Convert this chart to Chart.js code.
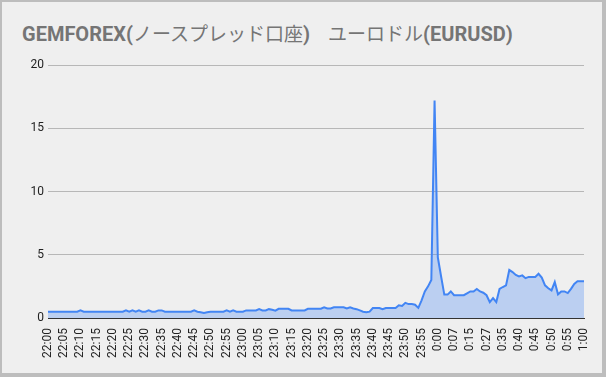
<!DOCTYPE html>
<html lang="ja">
<head>
  <meta charset="UTF-8" />
  <title>GEMFOREX ユーロドル スプレッド</title>
  <script src="https://cdn.jsdelivr.net/npm/chart.js"></script>
  <style>
    html, body {
      margin: 0;
      padding: 0;
      background: #bdbdbd;
      width: 606px;
      height: 377px;
      overflow: hidden;
    }
    #panel {
      position: absolute;
      left: 2px;
      top: 2px;
      width: 600px;
      height: 371px;
      background: #efefef;
    }
    #titulo {
      position: absolute;
      left: 20px;
      top: 17px;
      font-family: Roboto, Arial, sans-serif;
      font-size: 20px;
      font-weight: bold;
      color: #757575;
      white-space: nowrap;
    }
    #titulo .jp {
      font-family: "Noto Sans CJK JP", sans-serif;
      font-weight: normal;
      font-size: 19px;
    }
    #titulo .sp {
      font-size: 18px;
    }
    #grafica {
      position: absolute;
      left: 0;
      top: 49px;
    }
  </style>
</head>
<body>
  <div id="panel">
    <div id="titulo">GEMFOREX(<span class="jp">ノースプレッド口座</span>)<span class="sp">　</span><span class="jp">ユーロドル</span>(EURUSD)</div>
    <canvas id="grafica" width="600" height="322"></canvas>
  </div>

  <script>
    // etiquetas visibles del eje X (una cada 5 puntos)
    const etiquetasEje = [
      "22:00", "22:05", "22:10", "22:15", "22:20", "22:25", "22:30", "22:35",
      "22:40", "22:45", "22:50", "22:55", "23:00", "23:05", "23:10", "23:15",
      "23:20", "23:25", "23:30", "23:35", "23:40", "23:45", "23:50", "23:55",
      "0:00", "0:07", "0:15", "0:27", "0:35", "0:40", "0:45", "0:50", "0:55", "1:00"
    ];

    // spread (pips)
    const spread = [
      0.5, 0.5, 0.5, 0.5, 0.5, 0.5, 0.5, 0.5, 0.5, 0.5,
      0.6, 0.5, 0.5, 0.5, 0.5, 0.5, 0.5, 0.5, 0.5, 0.5,
      0.5, 0.5, 0.5, 0.5, 0.6, 0.5, 0.6, 0.5, 0.6, 0.5,
      0.5, 0.6, 0.5, 0.5, 0.6, 0.6, 0.5, 0.5, 0.5, 0.5,
      0.5, 0.5, 0.5, 0.5, 0.5, 0.6, 0.5, 0.45, 0.4, 0.45,
      0.5, 0.5, 0.5, 0.5, 0.5, 0.6, 0.5, 0.6, 0.5, 0.5,
      0.5, 0.6, 0.6, 0.6, 0.6, 0.7, 0.6, 0.6, 0.7, 0.65,
      0.58, 0.73, 0.73, 0.73, 0.73, 0.6, 0.6, 0.6, 0.6, 0.6,
      0.73, 0.73, 0.73, 0.73, 0.73, 0.84, 0.75, 0.75, 0.84, 0.84,
      0.84, 0.84, 0.75, 0.84, 0.75, 0.7, 0.6, 0.5, 0.45, 0.5,
      0.79, 0.79, 0.79, 0.7, 0.79, 0.79, 0.79, 0.79, 1.0, 0.95,
      1.2, 1.1, 1.1, 1.05, 0.8, 1.4, 2.1, 2.5, 3.0, 17.2,
      4.8, 3.3, 1.85, 1.85, 2.1, 1.8, 1.8, 1.8, 1.8, 1.95,
      2.1, 2.1, 2.3, 2.1, 2.0, 1.8, 1.26, 1.58, 1.26, 2.3,
      2.45, 2.58, 3.8, 3.63, 3.4, 3.29, 3.37, 3.15, 3.25, 3.25,
      3.25, 3.5, 3.2, 2.58, 2.35, 2.18, 2.84, 1.87, 2.1, 2.1,
      1.97, 2.3, 2.7, 2.9, 2.9, 2.9
    ];

    const categorias = spread.map((v, i) => (i % 5 === 0 ? etiquetasEje[i / 5] : ""));

    new Chart(document.getElementById("grafica"), {
      type: "line",
      data: {
        labels: categorias,
        datasets: [{
          data: spread,
          borderColor: "#4285f4",
          backgroundColor: "rgba(66,133,244,0.30)",
          borderWidth: 2,
          fill: "origin",
          tension: 0,
          pointRadius: 0
        }]
      },
      options: {
        responsive: false,
        animation: false,
        layout: { padding: { top: 14, right: 18, left: 0, bottom: 0 } },
        plugins: {
          legend: { display: false },
          tooltip: { enabled: false }
        },
        scales: {
          x: {
            grid: { display: false },
            border: { display: true, color: "#333333", width: 1 },
            ticks: {
              autoSkip: false,
              maxRotation: 90,
              minRotation: 90,
              padding: 2,
              color: "#222222",
              font: { family: "Roboto, Arial, sans-serif", size: 12 },
              callback: function (val, idx) { return categorias[idx]; }
            },
            afterFit: s => { s.height = 55; }
          },
          y: {
            min: 0,
            max: 20,
            border: { display: false },
            grid: {
              drawTicks: false,
              color: c => (c.tick.value === 0 ? "#333333" : "#b7b7b7")
            },
            ticks: {
              stepSize: 5,
              padding: 4,
              color: "#222222",
              font: { family: "Roboto, Arial, sans-serif", size: 12 }
            },
            afterFit: s => { s.width = 46; }
          }
        }
      }
    });
  </script>
</body>
</html>
